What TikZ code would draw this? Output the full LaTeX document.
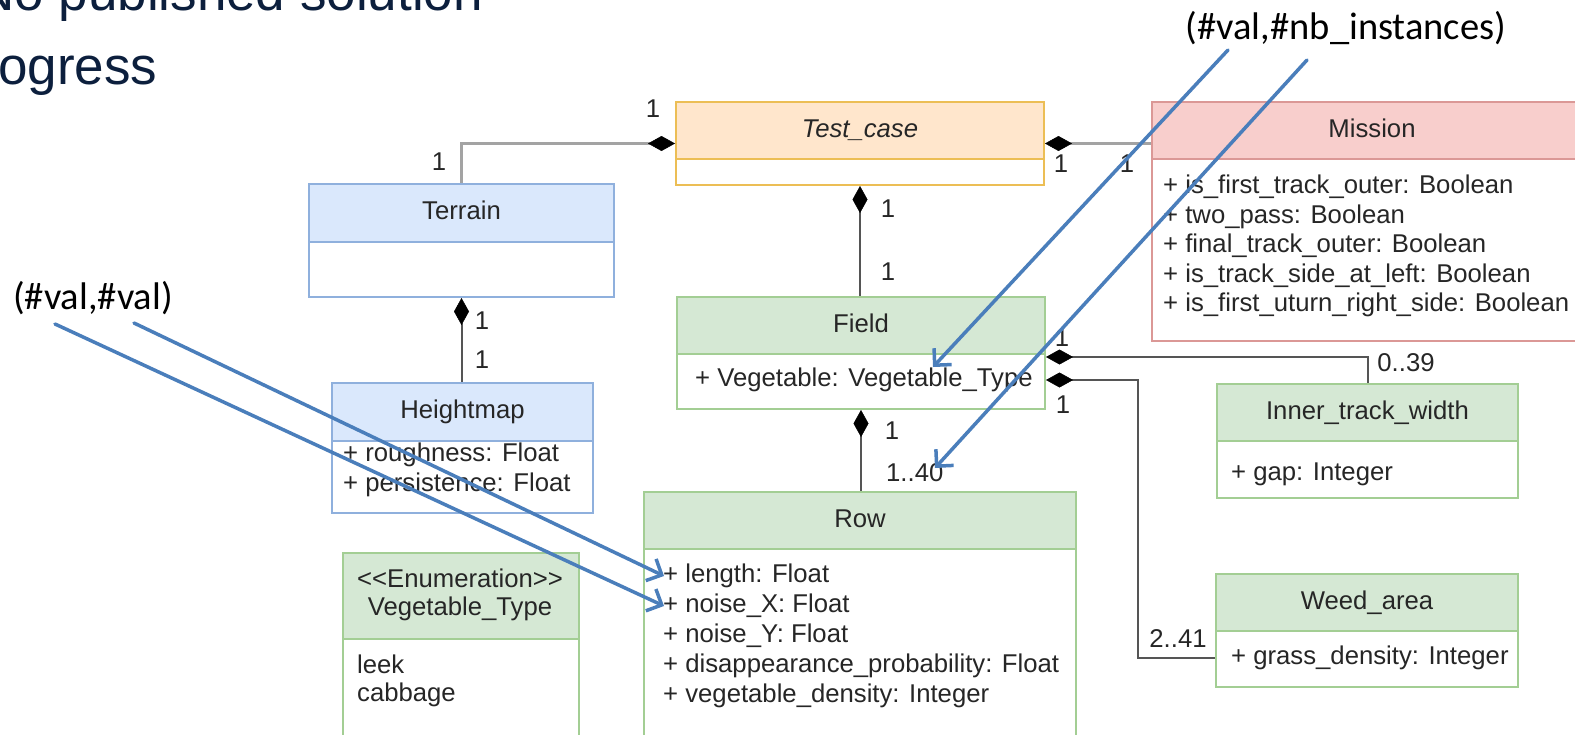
\documentclass[tikz,border=0pt]{standalone}
\usepackage{fontspec}
\setmainfont{Liberation Sans}
\newfontfamily\notefont{Carlito}
\usetikzlibrary{arrows.meta}

\definecolor{ink}{HTML}{262626}
\definecolor{bluF}{HTML}{DAE8FC}\definecolor{bluS}{HTML}{8FB0DD}
\definecolor{grnF}{HTML}{D5E8D4}\definecolor{grnS}{HTML}{A3CE94}
\definecolor{orgF}{HTML}{FFE6CC}\definecolor{orgS}{HTML}{ECBE55}
\definecolor{redF}{HTML}{F8CECC}\definecolor{redS}{HTML}{DB9896}
\definecolor{wire}{HTML}{555555}\definecolor{wirelt}{HTML}{A3A3A3}
\definecolor{noteblue}{HTML}{4A7EBB}
\definecolor{navy}{HTML}{0C1F3D}

\newcommand{\umlfont}{\fontsize{25.7pt}{30pt}\selectfont}

\tikzset{
  body/.style={draw=#1, fill=white, line width=2pt, inner sep=0pt, anchor=north west},
  head/.style 2 args={draw=#2, fill=#1, line width=2pt, inner sep=0pt, anchor=north west,
    text=ink, font=\umlfont, text height=18.4pt, text depth=5.4pt},
  txt/.style={inner sep=0pt, text=ink, font=\umlfont, text height=18.4pt, text depth=5.4pt},
  attr/.style={txt, anchor=west},
  lbl/.style={inner sep=0pt, text=ink, font=\umlfont, text height=18.4pt, text depth=0pt},
  compo/.style={draw=wire, line width=2pt,
    {Diamond[length=27pt,width=15pt,line width=0.5pt,color=black]}-},
  compolt/.style={compo, draw=wirelt, line width=3.5pt},
  note/.style={draw=noteblue, line width=3.5pt, line cap=round,
    -{Straight Barb[length=12pt,width=24pt]}},
  notetext/.style={inner sep=0pt, font=\notefont\fontsize{38.5pt}{44pt}\selectfont},
  titletext/.style={anchor=base west, inner sep=0pt, text=navy,
    font=\fontsize{53pt}{60pt}\selectfont}
}

\begin{document}
\begin{tikzpicture}[x=1pt,y=-1pt]
\useasboundingbox (0,0) rectangle (1575,734);
\clip (0,0) rectangle (1575,734);

% slide title lines
\node[titletext] (title1) at (-24,10) {No published solution};
\node[titletext] (title2) at (-2,84) {ogress};

% ---- classes ----
% Terrain
\node[body=bluS, minimum width=305pt, minimum height=113pt] (terrain) at (308,183) {};
\node[head={bluF}{bluS}, minimum width=305pt, minimum height=58pt] (terrainh) at (308,183) {Terrain};

% Heightmap
\node[body=bluS, minimum width=261pt, minimum height=130pt] (heightmap) at (331,382) {};
\node[head={bluF}{bluS}, minimum width=261pt, minimum height=58pt] (heightmaph) at (331,382) {Heightmap};
\node[attr] (hma1) at (343,455) {+ roughness: Float};
\node[attr] (hma2) at (343,485) {+ persistence: Float};

% Test_case
\node[body=orgS, minimum width=368pt, minimum height=83pt] (testcase) at (675,101) {};
\node[head={orgF}{orgS}, minimum width=368pt, minimum height=57pt] (testcaseh) at (675,101) {\itshape Test\_case};

% Mission
\node[body=redS, minimum width=440pt, minimum height=239pt] (mission) at (1151,101) {};
\node[head={redF}{redS}, minimum width=440pt, minimum height=57pt] (missionh) at (1151,101) {Mission};
\node[attr] (ma1) at (1163,187) {+ is\_first\_track\_outer: Boolean};
\node[attr] (ma2) at (1163,216.5) {+ two\_pass: Boolean};
\node[attr] (ma3) at (1163,246) {+ final\_track\_outer: Boolean};
\node[attr] (ma4) at (1163,275.5) {+ is\_track\_side\_at\_left: Boolean};
\node[attr] (ma5) at (1163,305) {+ is\_first\_uturn\_right\_side: Boolean};

% Field
\node[body=grnS, minimum width=368pt, minimum height=112pt] (field) at (676,296) {};
\node[head={grnF}{grnS}, minimum width=368pt, minimum height=57pt] (fieldh) at (676,296) {Field};
\node[attr] (fielda1) at (695,380) {+ Vegetable: Vegetable\_Type};

% Row
\node[body=grnS, minimum width=432pt, minimum height=260pt] (row) at (643,491) {};
\node[head={grnF}{grnS}, minimum width=432pt, minimum height=57pt] (rowh) at (643,491) {Row};
\node[attr] (rowa1) at (663,576) {+ length: Float};
\node[attr] (rowa2) at (663,606) {+ noise\_X: Float};
\node[attr] (rowa3) at (663,636) {+ noise\_Y: Float};
\node[attr] (rowa4) at (663,666) {+ disappearance\_probability: Float};
\node[attr] (rowa5) at (663,696) {+ vegetable\_density: Integer};

% Vegetable_Type enumeration
\node[body=grnS, minimum width=236pt, minimum height=200pt] (enum) at (342,552) {};
\node[head={grnF}{grnS}, minimum width=236pt, minimum height=86pt] (enumh) at (342,552) {};
\node[txt] (enumst) at (460,581) {<\kern0pt<Enumeration>\kern0pt>};
\node[txt] (enumname) at (460,609) {Vegetable\_Type};
\node[attr] (enumi1) at (357,667) {leek};
\node[attr] (enumi2) at (357,695) {cabbage};

% Inner_track_width
\node[body=grnS, minimum width=301pt, minimum height=114pt] (inner) at (1216,383) {};
\node[head={grnF}{grnS}, minimum width=301pt, minimum height=57pt] (innerh) at (1216,383) {Inner\_track\_width};
\node[attr] (innera1) at (1231,474) {+ gap: Integer};

% Weed_area
\node[body=grnS, minimum width=302pt, minimum height=113pt] (weed) at (1215,573) {};
\node[head={grnF}{grnS}, minimum width=302pt, minimum height=57pt] (weedh) at (1215,573) {Weed\_area};
\node[attr] (weeda1) at (1231,658) {+ grass\_density: Integer};

% ---- composition links ----
\draw[compolt] (testcase.west) -| (terrain.north);
\draw[compolt] (testcase.east) -- (testcase.east -| mission.west);
\draw[compo] (testcase.south) -- (testcase.south |- field.north);
\draw[compo] (terrain.south) -- (terrain.south |- heightmap.north);
\draw[compo] (field.south) -- (field.south |- row.north);
\draw[compo] ([yshift=-4pt]field.east) -| (inner.north);
\coordinate (weedbend) at (1138,380);
\draw[compo] (fielda1 -| field.east) -- (weedbend) |- (weeda1 -| weed.west);

% multiplicities
\node[lbl] (m1) at (653,108) {1};
\node[lbl] (m2) at (439,161) {1};
\node[lbl] (m3) at (1061,163) {1};
\node[lbl] (m4) at (1127,163) {1};
\node[lbl] (m5) at (888,208) {1};
\node[lbl] (m6) at (888,271) {1};
\node[lbl] (m7) at (482,320) {1};
\node[lbl] (m8) at (482,359) {1};
\node[lbl] (m9) at (892,430) {1};
\node[lbl, anchor=west] (m10) at (886,472) {1..40};
\node[lbl] (m11) at (1062,337) {1};
\node[lbl] (m12) at (1063,404) {1};
\node[lbl] (m13) at (1406,362) {0..39};
\node[lbl] (m14) at (1178,638) {2..41};

% ---- annotations ----
\node[notetext] (nbnote) at (1346,28) {(\#val,\#nb\_instances)};
\node[notetext] (valnote) at (93,298) {(\#val,\#val)};
\coordinate (s1) at (1228,50);
\coordinate (s2) at (1307,60);
\coordinate (s3) at (134,323);
\coordinate (s4) at (55,324);
\coordinate (t1) at (933,367);
\coordinate (t2) at (935,468);
\coordinate (t3) at (664,576);
\coordinate (t4) at (664,606);
\draw[note] (s1) -- (t1);
\draw[note] (s2) -- (t2);
\draw[note] (s3) -- (t3);
\draw[note] (s4) -- (t4);
\end{tikzpicture}
\end{document}
